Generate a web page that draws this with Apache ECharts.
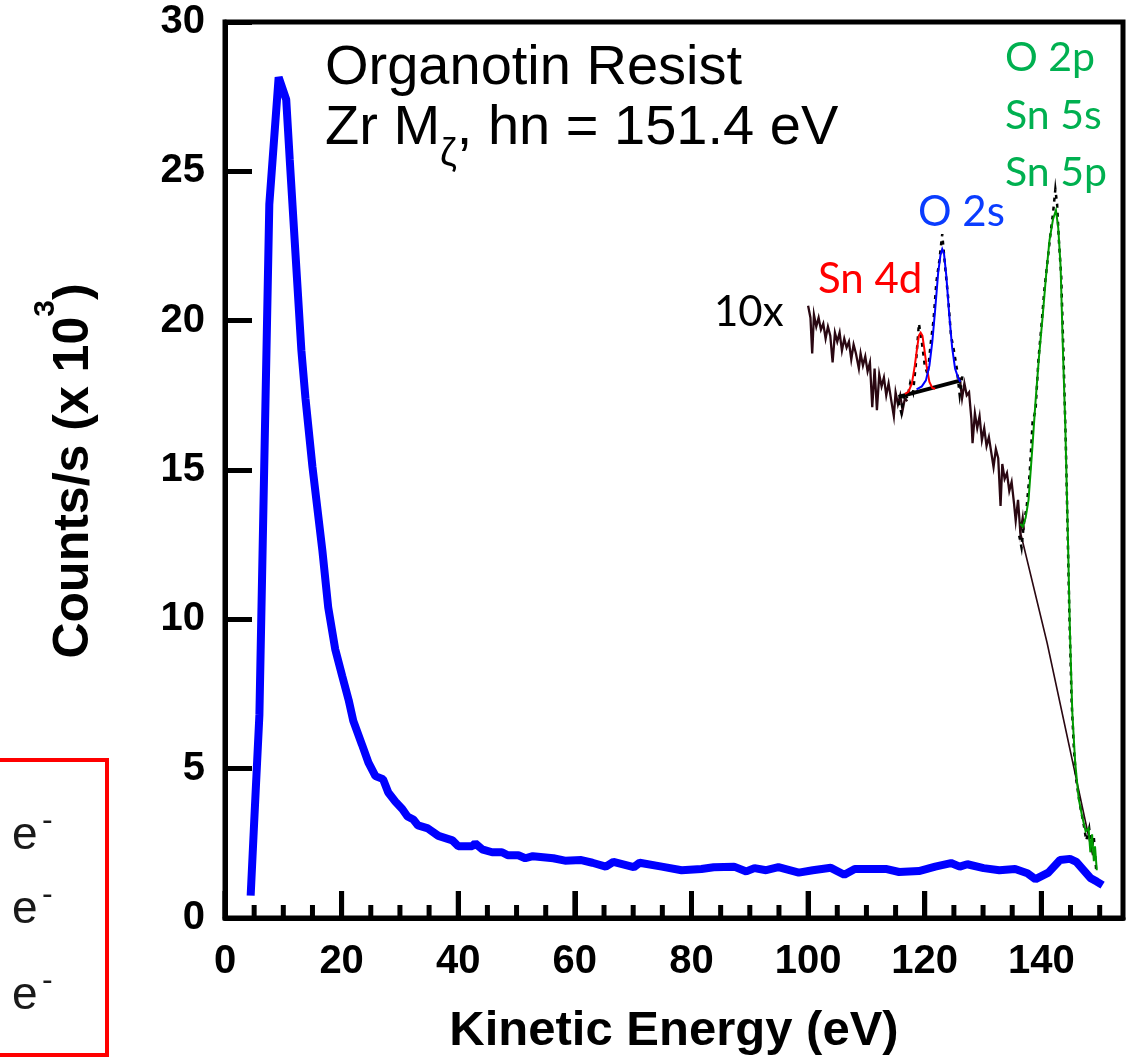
<!DOCTYPE html>
<html><head><meta charset="utf-8">
<script src="https://cdn.jsdelivr.net/npm/echarts@6/dist/echarts.min.js"></script>
<style>html,body{margin:0;padding:0;background:#fff}#c{width:1130px;height:1059px}</style>
</head><body><div id="c"></div>
<script>
// ---- axis values ----
const xMax = 154;
const xMajorStep = 20;
const yMax = 30;
const yStep = 5;
const xMajorTicks = [0, 20, 40, 60, 80, 100, 120, 140];
const xMinorTicks = [5, 10, 15, 25, 30, 35, 45, 50, 55, 65, 70, 75, 85, 90, 95, 105, 110, 115, 125, 130, 135, 145, 150];

// ---- main spectrum (kinetic energy eV, counts/s x 10^3) ----
const mainSpectrum = [
  [4.4,0.75],[5.0,3.2],[5.9,6.8],[7.6,23.9],[9.2,28.15],[10.5,27.4],[11.1,25.4],[13.1,19.0],
  [13.8,17.4],[15.0,15.1],[16.7,12.3],[17.7,10.4],[18.9,9.0],[20.1,8.1],[21.2,7.3],[22.0,6.6],
  [23.5,5.8],[24.6,5.2],[25.8,4.75],[27.1,4.65],[28.0,4.2],[29.2,3.9],[30.4,3.65],[31.3,3.4],
  [32.3,3.3],[33.1,3.1],[34.8,3.0],[36.6,2.75],[39.0,2.6],[40.0,2.4],[42.4,2.4],[42.9,2.5],
  [44.1,2.3],[45.8,2.2],[47.5,2.2],[48.5,2.1],[50.3,2.1],[51.5,2.0],[52.8,2.07],[56.3,2.0],
  [58.3,1.92],[61.1,1.94],[63.0,1.85],[65.3,1.72],[66.6,1.88],[70.1,1.70],[71.1,1.85],[74.9,1.72],
  [78.3,1.6],[81.7,1.64],[83.8,1.7],[87.3,1.72],[89.4,1.56],[90.8,1.67],[92.8,1.6],[94.9,1.7],
  [98.4,1.52],[100.8,1.6],[103.9,1.68],[106.2,1.45],[108.0,1.64],[113.5,1.64],[115.6,1.54],
  [119.0,1.57],[121.8,1.72],[124.5,1.84],[126.0,1.72],[127.3,1.8],[130.1,1.67],[132.8,1.6],
  [135.5,1.64],[137.6,1.5],[139.0,1.3],[141.2,1.52],[143.2,1.94],[144.9,1.98],[146.0,1.88],
  [148.4,1.34],[149.5,1.22],[150.5,1.1]
];

// ---- 10x magnified spectrum: raw noisy trace ----
const tenXLow = [
  [100.0,20.5],[100.4,20.1],[100.7,18.9],[101.0,20.2],[101.4,19.8],[101.8,20.1],[102.2,19.7],[102.6,19.9],
  [103.0,19.4],[103.4,19.8],[103.8,19.5],[104.2,18.6],[104.6,19.6],[105.0,19.3],[105.4,19.6],[105.8,19.0],
  [106.2,19.4],[106.6,19.1],[107.0,19.3],[107.4,18.7],[107.8,19.2],[108.2,18.9],[108.7,18.4],[109.0,18.9],
  [109.4,18.5],[109.8,18.8],[110.2,18.3],[110.6,18.6],[111.0,17.1],[111.4,18.4],[111.8,17.0],[112.2,18.2],
  [112.6,17.8],[113.0,18.1],[113.4,17.5],[113.8,17.9],[114.2,17.4],[114.7,16.8],[115.0,17.6],[115.4,17.2],
  [115.8,17.5],[116.2,17.0],[116.6,17.4],[117.0,17.3]
];
const tenXHigh = [
  [126.0,18.1],[126.4,17.4],[126.8,17.9],[127.2,17.5],[127.6,17.6],[128.0,16.7],[128.2,15.9],[128.6,16.9],
  [129.0,16.4],[129.4,16.8],[129.8,16.0],[130.2,16.4],[130.6,15.8],[131.0,16.1],[131.4,15.6],[131.8,15.1],
  [132.2,15.7],[132.6,15.4],[133.0,13.8],[133.3,15.2],[133.7,14.7],[134.1,14.9],[134.5,14.3],[134.9,14.6],
  [135.3,13.9],[135.6,13.3],[136.0,14.0],[136.4,12.9],[136.8,13.4],[137.0,13.0]
];
const tenXTail = [[136.3,13.0],[141.0,9.2],[148.8,2.1]];

// ---- raw points over the fitted peaks (dotted) ----
const rawPeaksA = [
  [115.5,17.3],[116.0,16.9],[116.5,17.6],[117.0,17.4],[117.5,17.9],[118.0,17.6],[118.5,18.6],[119.0,19.9],
  [119.5,19.3],[120.0,18.5],[120.5,18.2],[121.0,19.2],[121.5,20.0],[122.0,21.3],[122.5,22.0],[123.0,22.9],
  [123.5,21.8],[124.0,20.8],[124.5,19.5],[125.0,19.0],[125.5,18.4],[126.0,17.5],[126.5,18.2]
];
const rawPeaksB = [
  [136.2,12.8],[136.6,12.4],[137.0,13.2],[137.5,13.8],[138.0,14.9],[138.5,16.6],[139.0,17.0],[139.5,18.7],
  [140.0,19.8],[140.5,21.0],[141.0,21.9],[141.5,22.8],[142.0,23.6],[142.4,24.4],[142.7,23.9],[143.0,22.7],
  [143.4,21.5],[143.8,18.8],[144.2,15.8],[144.5,13.0],[144.8,10.2],[145.2,7.2],[145.6,5.6],[146.0,4.6],
  [146.6,3.8],[147.2,3.2],[147.7,2.6],[148.2,3.0],[148.6,2.3],[149.0,2.7],[149.4,1.6]
];

// ---- fitted components ----
const sn4dFit = [
  [116.6,17.55],[117.2,17.62],[117.8,17.9],[118.3,18.5],[118.7,19.1],[119.0,19.5],[119.3,19.6],
  [119.6,19.5],[119.9,19.1],[120.3,18.5],[120.8,17.95],[121.3,17.75],[121.8,17.72]
];
const o2sFit = [
  [118.6,17.7],[119.5,17.8],[120.2,18.0],[120.8,18.5],[121.3,19.3],[121.8,20.4],[122.3,21.6],[122.7,22.2],
  [123.0,22.4],[123.3,22.25],[123.7,21.5],[124.2,20.2],[124.7,19.1],[125.2,18.4],[125.7,18.1],[126.1,17.95]
];
const o2pFit = [
  [136.4,13.2],[136.8,13.1],[137.3,13.4],[137.8,14.0],[138.4,15.6],[139.0,17.3],[139.6,18.8],[140.2,20.1],
  [140.8,21.5],[141.4,22.7],[142.0,23.4],[142.5,23.7],[142.9,23.1],[143.3,21.8],[143.7,19.0],[144.1,16.5],
  [144.5,13.2],[144.9,9.6],[145.3,6.9],[145.8,5.2],[146.4,4.0],[147.0,3.4],[147.6,2.9],[148.1,3.0],
  [148.4,2.2],[148.7,2.8],[149.0,1.9],[149.2,2.4],[149.5,1.6]
];
const backgroundLine = [[115.5,17.45],[126.2,18.0]];

// ---- text ----
const titleLine1 = 'Organotin Resist';
const xTitle = 'Kinetic Energy (eV)';
const peakLabels = { sn4d: 'Sn 4d', o2s: 'O 2s', o2p: ['O 2p', 'Sn 5s', 'Sn 5p'] };

const chart = echarts.init(document.getElementById('c'));
const AX = '"Liberation Sans", Arial, sans-serif';
const LB = 'Lato, "Open Sans", sans-serif';

function lineSeries(data, color, width, dashed, join) {
  return {
    type: 'line', data: data, xAxisIndex: 0, yAxisIndex: 0, showSymbol: false, symbol: 'none',
    silent: true, animation: false,
    lineStyle: { color: color, width: width, type: dashed ? [4, 5] : 'solid', cap: 'butt', join: join || 'miter' }
  };
}
// x-axis tick marks placed through the axis scale (value -> pixel via api.coord)
function tickSeries(values, len) {
  return {
    type: 'custom', coordinateSystem: 'cartesian2d', xAxisIndex: 0, yAxisIndex: 0,
    silent: true, animation: false, clip: false, z: 6,
    data: values.map(v => [v, 0]),
    renderItem: function (params, api) {
      const p = api.coord([api.value(0), api.value(1)]);
      return { type: 'line', shape: { x1: p[0], y1: p[1], x2: p[0], y2: p[1] - len },
        style: { stroke: '#000', lineWidth: 5, lineCap: 'butt' } };
    }
  };
}

chart.setOption({
  animation: false,
  grid: { left: 225, top: 22, right: 7, bottom: 141, show: true, borderColor: '#000', borderWidth: 5, backgroundColor: 'transparent' },
  xAxis: {
    type: 'value', min: 0, max: xMax, interval: xMajorStep, position: 'bottom', z: 10,
    axisLine: { show: true, onZero: false, lineStyle: { color: '#000', width: 5 } },
    axisTick: { show: true, inside: true, length: 27, lineStyle: { color: '#000', width: 5 } },
    axisLabel: { show: true, margin: 24, showMaxLabel: false, fontFamily: AX, fontWeight: 'bold', fontSize: 40, color: '#000' },
    splitLine: { show: false }
  },
  yAxis: {
    type: 'value', min: 0, max: yMax, interval: yStep, position: 'left', z: 10,
    axisLine: { show: true, onZero: false, lineStyle: { color: '#000', width: 5 } },
    axisTick: { show: true, inside: true, length: 27, lineStyle: { color: '#000', width: 5 } },
    axisLabel: { show: true, margin: 20, fontFamily: AX, fontWeight: 'bold', fontSize: 40, color: '#000' },
    splitLine: { show: false }
  },
  series: [
    lineSeries(mainSpectrum, '#0000ff', 8, false, 'bevel'),
    lineSeries(tenXLow, '#2a0812', 2.3, false),
    lineSeries(tenXHigh, '#2a0812', 2.3, false),
    lineSeries(tenXTail, '#2a0812', 1.6, false),
    lineSeries(rawPeaksA, '#000000', 2.5, true),
    lineSeries(rawPeaksB, '#000000', 2.5, true),
    lineSeries(backgroundLine, '#000000', 4, false),
    lineSeries(sn4dFit, '#ff0000', 2, false),
    lineSeries(o2sFit, '#0000ff', 2, false),
    lineSeries(o2pFit, '#009a00', 2, false),
    tickSeries(xMajorTicks, 27),
    tickSeries(xMinorTicks, 13)
  ],
  graphic: [
    { type: 'text', x: 325, y: 69, silent: true, z: 10,
      style: { text: titleLine1, font: '56px ' + AX, fill: '#000', align: 'left', verticalAlign: 'middle' } },
    { type: 'text', x: 325, y: 129, silent: true, z: 10,
      style: { text: '{a|Zr M}{z|ζ}{a|, hn = 151.4 eV}', align: 'left', verticalAlign: 'middle',
        rich: {
          a: { fontFamily: AX, fontSize: 56, lineHeight: 90, verticalAlign: 'middle', fill: '#000', color: '#000' },
          z: { fontFamily: AX, fontSize: 38, lineHeight: 43, verticalAlign: 'bottom', fill: '#000', color: '#000' }
        } } },
    { type: 'text', x: 674, y: 1031, silent: true, z: 10,
      style: { text: xTitle, font: 'bold 49px ' + AX, fill: '#000', align: 'center', verticalAlign: 'middle' } },
    { type: 'text', x: 714, y: 312, silent: true, z: 10,
      style: { text: '10x', font: '42px ' + LB, fill: '#000', align: 'left', verticalAlign: 'middle' } },
    { type: 'text', x: 818, y: 279, silent: true, z: 10,
      style: { text: peakLabels.sn4d, font: '42px ' + LB, fill: '#ff0000', align: 'left', verticalAlign: 'middle' } },
    { type: 'text', x: 918, y: 212, silent: true, z: 10,
      style: { text: peakLabels.o2s, font: '42px ' + LB, fill: '#0a3cff', align: 'left', verticalAlign: 'middle' } },
    { type: 'text', x: 1005, y: 58, silent: true, z: 10,
      style: { text: peakLabels.o2p[0], font: '41px ' + LB, fill: '#00b050', align: 'left', verticalAlign: 'middle' } },
    { type: 'text', x: 1005, y: 116, silent: true, z: 10,
      style: { text: peakLabels.o2p[1], font: '41px ' + LB, fill: '#00b050', align: 'left', verticalAlign: 'middle' } },
    { type: 'text', x: 1005, y: 173, silent: true, z: 10,
      style: { text: peakLabels.o2p[2], font: '41px ' + LB, fill: '#00b050', align: 'left', verticalAlign: 'middle' } },
    { type: 'text', x: 74, y: 471, rotation: Math.PI / 2, silent: true, z: 10,
      style: { text: '{a|Counts/s (x 10}{s|3}{a|)}', align: 'center', verticalAlign: 'middle',
        rich: {
          a: { fontFamily: AX, fontWeight: 'bold', fontSize: 50, lineHeight: 86, verticalAlign: 'middle', fill: '#000', color: '#000' },
          s: { fontFamily: AX, fontWeight: 'bold', fontSize: 30, lineHeight: 30, verticalAlign: 'top', fill: '#000', color: '#000' }
        } } },
    { type: 'rect', silent: true, z: 10,
      shape: { x: -10, y: 760, width: 117, height: 295 },
      style: { fill: 'none', stroke: '#ff0000', lineWidth: 4 } },
    { type: 'text', x: 12, y: 836, silent: true, z: 10,
      style: { text: 'e', font: '46px ' + AX, fill: '#1a1a1a', align: 'left', verticalAlign: 'middle' } },
    { type: 'text', x: 42, y: 821, silent: true, z: 10,
      style: { text: '-', font: '32px ' + AX, fill: '#1a1a1a', align: 'left', verticalAlign: 'middle' } },
    { type: 'text', x: 12, y: 910, silent: true, z: 10,
      style: { text: 'e', font: '46px ' + AX, fill: '#1a1a1a', align: 'left', verticalAlign: 'middle' } },
    { type: 'text', x: 42, y: 895, silent: true, z: 10,
      style: { text: '-', font: '32px ' + AX, fill: '#1a1a1a', align: 'left', verticalAlign: 'middle' } },
    { type: 'text', x: 12, y: 996, silent: true, z: 10,
      style: { text: 'e', font: '46px ' + AX, fill: '#1a1a1a', align: 'left', verticalAlign: 'middle' } },
    { type: 'text', x: 42, y: 981, silent: true, z: 10,
      style: { text: '-', font: '32px ' + AX, fill: '#1a1a1a', align: 'left', verticalAlign: 'middle' } }
  ]
});
</script>
</body></html>
